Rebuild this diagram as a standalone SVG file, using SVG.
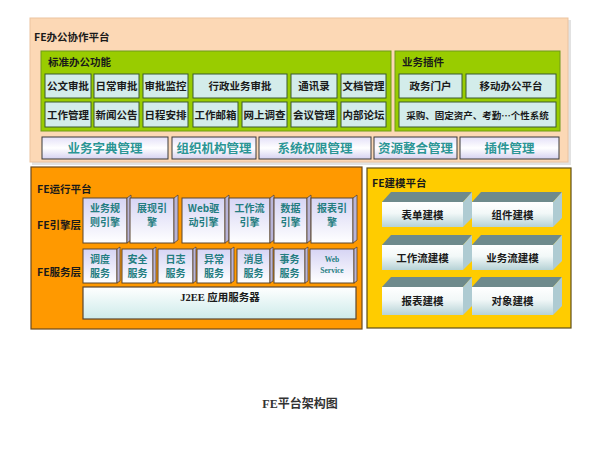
<svg xmlns="http://www.w3.org/2000/svg" width="595" height="453" viewBox="0 0 595 453">
<style>
text{font-family:"Noto Sans CJK SC","Liberation Sans",sans-serif;font-weight:bold;}
.ttl{font-size:10.5px;fill:#1a1a1a;}
.cell{fill:#D3ECEA;stroke:#3B5A30;stroke-width:1;}
.ct{font-size:10.5px;fill:#1a1a1a;text-anchor:middle;}
.bar{fill:url(#barG);stroke:#3A3A3A;stroke-width:1;}
.bt{font-size:12.5px;fill:#2B9595;text-anchor:middle;}
.eng{fill:url(#engG);stroke:#5A4630;stroke-width:1;}
.ebev{fill:#B8B4D8;stroke:#5A4630;stroke-width:0.8;}
.et{font-size:10px;fill:#237D80;text-anchor:middle;}
.mt{fill:#6E8A8C;}
.mf{fill:url(#modG);}
.ms{fill:#AECBD2;}
.mx{font-size:10.5px;fill:#1a1a1a;text-anchor:middle;}
</style>
<defs>
<linearGradient id="barG" x1="0" y1="0" x2="0" y2="1"><stop offset="0" stop-color="#E4E0F8"/><stop offset="0.5" stop-color="#FFFFFF"/><stop offset="1" stop-color="#D6D2F0"/></linearGradient>
<linearGradient id="engG" x1="0" y1="0" x2="0" y2="1"><stop offset="0" stop-color="#D6D4F4"/><stop offset="1" stop-color="#FFFFFF"/></linearGradient>
<linearGradient id="modG" x1="0" y1="0" x2="0" y2="1"><stop offset="0" stop-color="#FFFFFF"/><stop offset="0.45" stop-color="#F2F8F8"/><stop offset="1" stop-color="#B6D2D6"/></linearGradient>
<linearGradient id="j2G" x1="0" y1="0" x2="0" y2="1"><stop offset="0" stop-color="#FFFFFF"/><stop offset="1" stop-color="#CDEBEA"/></linearGradient>
</defs>
<rect width="595" height="453" fill="#FFFFFF"/>

<!-- FE办公协作平台 -->
<g id="office-platform">
<rect x="32" y="20" width="539" height="145" fill="#E2E2E2"/>
<rect x="30" y="18" width="538" height="144" fill="#FCD8B5" stroke="#EBC3A0" stroke-width="1"/>
<text class="ttl" x="34" y="41">FE办公协作平台</text>
</g>
<g id="std-office">
<rect x="41" y="51" width="350" height="80" fill="#99CC00" stroke="#6F9A1A" stroke-width="1"/>
<text class="ttl" x="48" y="66">标准办公功能</text>
</g>
<g id="n-gongwen"><rect class="cell" x="45" y="74" width="46" height="24"/><text class="ct" x="68" y="90">公文审批</text></g>
<g id="n-richang"><rect class="cell" x="94" y="74" width="45" height="24"/><text class="ct" x="116.5" y="90">日常审批</text></g>
<g id="n-shenpijk"><rect class="cell" x="143" y="74" width="45" height="24"/><text class="ct" x="165.5" y="90">审批监控</text></g>
<g id="n-xingzheng"><rect class="cell" x="193" y="74" width="94" height="24"/><text class="ct" x="240" y="90">行政业务审批</text></g>
<g id="n-tongxun"><rect class="cell" x="291" y="74" width="46" height="24"/><text class="ct" x="314" y="90">通讯录</text></g>
<g id="n-wendang"><rect class="cell" x="341" y="74" width="45" height="24"/><text class="ct" x="363.5" y="90">文档管理</text></g>
<g id="n-gongzuo"><rect class="cell" x="45" y="102" width="46" height="25"/><text class="ct" x="68" y="119">工作管理</text></g>
<g id="n-xinwen"><rect class="cell" x="94" y="102" width="45" height="25"/><text class="ct" x="116.5" y="119">新闻公告</text></g>
<g id="n-richeng"><rect class="cell" x="143" y="102" width="45" height="25"/><text class="ct" x="165.5" y="119">日程安排</text></g>
<g id="n-youxiang"><rect class="cell" x="193" y="102" width="45" height="25"/><text class="ct" x="215.5" y="119">工作邮箱</text></g>
<g id="n-diaocha"><rect class="cell" x="242" y="102" width="45" height="25"/><text class="ct" x="264.5" y="119">网上调查</text></g>
<g id="n-huiyi"><rect class="cell" x="291" y="102" width="46" height="25"/><text class="ct" x="314" y="119">会议管理</text></g>
<g id="n-luntan"><rect class="cell" x="341" y="102" width="45" height="25"/><text class="ct" x="363.5" y="119">内部论坛</text></g>

<g id="plugins">
<rect x="395" y="51" width="165" height="80" fill="#99CC00" stroke="#6F9A1A" stroke-width="1"/>
<text class="ttl" x="402" y="66">业务插件</text>
</g>
<g id="n-zhengwu"><rect class="cell" x="399" y="74" width="63" height="24"/><text class="ct" x="430.5" y="90">政务门户</text></g>
<g id="n-yidong"><rect class="cell" x="466" y="74" width="90" height="24"/><text class="ct" x="511" y="90">移动办公平台</text></g>
<g id="n-caigou"><rect class="cell" x="399" y="102" width="157" height="25"/><text class="ct" x="477.5" y="118.5" style="font-size:9.5px">采购、固定资产、考勤…个性系统</text></g>

<g id="b-zidian"><rect class="bar" x="42" y="137" width="126" height="22"/><text class="bt" x="105" y="153">业务字典管理</text></g>
<g id="b-zuzhi"><rect class="bar" x="172" y="137" width="84" height="22"/><text class="bt" x="214" y="153">组织机构管理</text></g>
<g id="b-quanxian"><rect class="bar" x="259" y="137" width="112" height="22"/><text class="bt" x="315" y="153">系统权限管理</text></g>
<g id="b-ziyuan"><rect class="bar" x="374" y="137" width="83" height="22"/><text class="bt" x="415.5" y="153">资源整合管理</text></g>
<g id="b-chajian"><rect class="bar" x="460" y="137" width="99" height="22"/><text class="bt" x="509.5" y="153">插件管理</text></g>

<!-- FE运行平台 -->
<g id="runtime-platform">
<rect x="31" y="167" width="331" height="162" fill="#FF9900" stroke="#6B4A1E" stroke-width="1.2"/>
<text class="ttl" x="37" y="193">FE运行平台</text>
<text class="ttl" x="37" y="229">FE引擎层</text>
<text class="ttl" x="37" y="276">FE服务层</text>
</g>
<g id="e-guize"><rect class="eng" x="83" y="198" width="44" height="45"/><polygon class="ebev" points="127,198 131,195 131,240 127,243"/><text class="et" x="105" y="212">业务规</text><text class="et" x="105" y="226">则引擎</text></g>
<g id="e-zhanxian"><rect class="eng" x="130" y="198" width="44" height="45"/><polygon class="ebev" points="174,198 178,195 178,240 174,243"/><text class="et" x="152" y="212">展现引</text><text class="et" x="152" y="226">擎</text></g>
<g id="e-web"><rect class="eng" x="182" y="198" width="43" height="45"/><polygon class="ebev" points="225,198 229,195 229,240 225,243"/><text class="et" x="203.5" y="212">Web驱</text><text class="et" x="203.5" y="226">动引擎</text></g>
<g id="e-liucheng"><rect class="eng" x="229" y="198" width="41" height="45"/><polygon class="ebev" points="270,198 274,195 274,240 270,243"/><text class="et" x="249.5" y="212">工作流</text><text class="et" x="249.5" y="226">引擎</text></g>
<g id="e-shuju"><rect class="eng" x="274" y="198" width="33" height="45"/><polygon class="ebev" points="307,198 311,195 311,240 307,243"/><text class="et" x="290.5" y="212">数据</text><text class="et" x="290.5" y="226">引擎</text></g>
<g id="e-baobiao"><rect class="eng" x="311" y="198" width="42" height="45"/><polygon class="ebev" points="353,198 357,195 357,240 353,243"/><text class="et" x="332" y="212">报表引</text><text class="et" x="332" y="226">擎</text></g>

<g id="s-diaodu"><rect class="eng" x="83" y="249" width="34" height="34"/><polygon class="ebev" points="117,249 120,247 120,281 117,283"/><text class="et" x="100" y="263">调度</text><text class="et" x="100" y="277">服务</text></g>
<g id="s-anquan"><rect class="eng" x="122" y="249" width="31" height="34"/><polygon class="ebev" points="153,249 156,247 156,281 153,283"/><text class="et" x="137.5" y="263">安全</text><text class="et" x="137.5" y="277">服务</text></g>
<g id="s-rizhi"><rect class="eng" x="158" y="249" width="35" height="34"/><polygon class="ebev" points="193,249 196,247 196,281 193,283"/><text class="et" x="175.5" y="263">日志</text><text class="et" x="175.5" y="277">服务</text></g>
<g id="s-yichang"><rect class="eng" x="197" y="249" width="34" height="34"/><polygon class="ebev" points="231,249 234,247 234,281 231,283"/><text class="et" x="214" y="263">异常</text><text class="et" x="214" y="277">服务</text></g>
<g id="s-xiaoxi"><rect class="eng" x="237" y="249" width="33" height="34"/><polygon class="ebev" points="270,249 273,247 273,281 270,283"/><text class="et" x="253.5" y="263">消息</text><text class="et" x="253.5" y="277">服务</text></g>
<g id="s-shiwu"><rect class="eng" x="274" y="249" width="31" height="34"/><polygon class="ebev" points="305,249 308,247 308,281 305,283"/><text class="et" x="289.5" y="263">事务</text><text class="et" x="289.5" y="277">服务</text></g>
<g id="s-webservice"><rect class="eng" x="310" y="249" width="44" height="34"/><polygon class="ebev" points="354,249 357,247 357,281 354,283"/><text class="et" x="332" y="262" style="font-size:7.5px;font-family:'Liberation Serif',serif">Web</text><text class="et" x="332" y="273" style="font-size:7.5px;font-family:'Liberation Serif',serif">Service</text></g>

<g id="j2ee"><rect x="83" y="287" width="273" height="32" fill="url(#j2G)" stroke="#5A4630" stroke-width="1.2"/><text class="ct" x="220" y="301" style="font-family:'Liberation Serif','Noto Sans CJK SC',serif">J2EE 应用服务器</text></g>

<!-- FE建模平台 -->
<g id="modeling-platform">
<rect x="367" y="168" width="204" height="160" fill="#FFCC00" stroke="#5E4E1A" stroke-width="1.2"/>
<text class="ttl" x="372" y="187">FE建模平台</text>
</g>
<g id="m-biaodan"><polygon class="mt" points="382,202 391,192 472,192 463,202"/><polygon class="ms" points="463,202 472,192 472,218 463,227"/><rect class="mf" x="382" y="202" width="81" height="25"/><text class="mx" x="422.5" y="219">表单建模</text></g>
<g id="m-zujian"><polygon class="mt" points="472,202 481,192 562,192 553,202"/><polygon class="ms" points="553,202 562,192 562,218 553,227"/><rect class="mf" x="472" y="202" width="81" height="25"/><text class="mx" x="512.5" y="219">组件建模</text></g>
<g id="m-gongzuoliu"><polygon class="mt" points="382,245 391,235 472,235 463,245"/><polygon class="ms" points="463,245 472,235 472,261 463,270"/><rect class="mf" x="382" y="245" width="81" height="25"/><text class="mx" x="422.5" y="262">工作流建模</text></g>
<g id="m-yewuliu"><polygon class="mt" points="472,245 481,235 562,235 553,245"/><polygon class="ms" points="553,245 562,235 562,261 553,270"/><rect class="mf" x="472" y="245" width="81" height="25"/><text class="mx" x="512.5" y="262">业务流建模</text></g>
<g id="m-baobiao"><polygon class="mt" points="382,287 391,277 472,277 463,287"/><polygon class="ms" points="463,287 472,277 472,306 463,315"/><rect class="mf" x="382" y="287" width="81" height="28"/><text class="mx" x="422.5" y="305">报表建模</text></g>
<g id="m-duixiang"><polygon class="mt" points="472,287 481,277 562,277 553,287"/><polygon class="ms" points="553,287 562,277 562,306 553,315"/><rect class="mf" x="472" y="287" width="81" height="28"/><text class="mx" x="512.5" y="305">对象建模</text></g>

<g id="connectors"></g>

<text x="300" y="408" text-anchor="middle" font-size="12" fill="#333333" style="font-family:'Liberation Serif','Noto Sans CJK SC',serif">FE平台架构图</text>
</svg>
